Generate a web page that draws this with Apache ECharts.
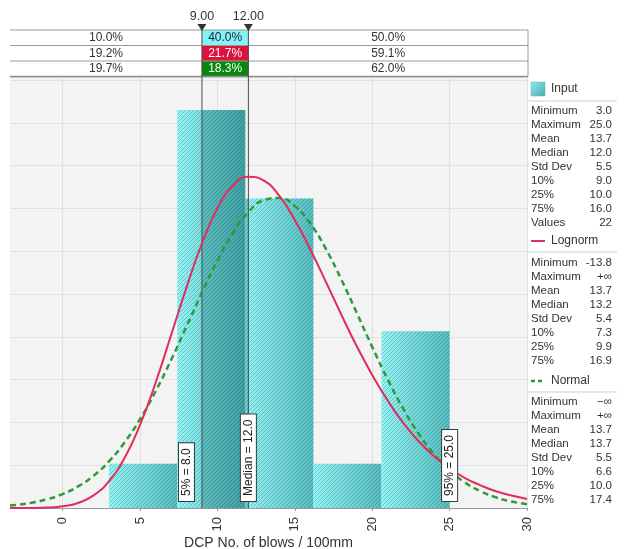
<!DOCTYPE html>
<html>
<head>
<meta charset="utf-8">
<script src="https://cdn.jsdelivr.net/npm/echarts@6/dist/echarts.min.js"></script>
<style>
  html, body { margin: 0; padding: 0; background: #ffffff; }
  #chart { width: 627px; height: 549px; }
</style>
</head>
<body>
<div id="chart"></div>
<script>
// Histogram of the input sample (22 values, 5 equal bins)
const binEdges = [3.0, 7.4, 11.8, 16.2, 20.6, 25.0];
const binCounts = [1, 9, 7, 1, 4];
const totalValues = 22;

// Fitted probability densities sampled along the x axis
const curveX = [-3.4, -3, -2, -1, 0, 1, 2, 3, 4, 5, 6, 7, 8, 9, 10, 11, 12, 13, 14, 15,
  16, 17, 18, 19, 20, 21, 22, 23, 24, 25, 26, 27, 28, 29, 30];
const lognormPdf = [0.000001, 0.000003, 0.00002, 0.0001, 0.00039, 0.00118, 0.00294, 0.00628,
  0.0117, 0.0194, 0.0292, 0.0403, 0.0515, 0.0618, 0.0700, 0.0753, 0.0774, 0.0765, 0.0729,
  0.0673, 0.0604, 0.0529, 0.0452, 0.0378, 0.0311, 0.0251, 0.0199, 0.0156, 0.0121, 0.0093,
  0.0070, 0.0053, 0.0039, 0.0029, 0.0021];
const normalPdf = [0.00058, 0.00072, 0.00123, 0.00204, 0.00326, 0.00504, 0.00755, 0.01093,
  0.01532, 0.02076, 0.02722, 0.03454, 0.04239, 0.05034, 0.05784, 0.0643, 0.06914, 0.07194,
  0.07242, 0.07053, 0.06646, 0.06058, 0.05343, 0.04559, 0.03764, 0.03006, 0.02323, 0.01736,
  0.01256, 0.00879, 0.00595, 0.0039, 0.00247, 0.00151, 0.0009];

// Delimiters and the probability table above the plot
const delimiters = [9.0, 12.0];
const delimiterLabels = ['9.00', '12.00'];
const leftProb = ['10.0%', '19.2%', '19.7%'];
const midProb = ['40.0%', '21.7%', '18.3%'];
const rightProb = ['50.0%', '59.1%', '62.0%'];

// Percentile markers
const markers = [[8.0, '5% = 8.0'], [12.0, 'Median = 12.0'], [25.0, '95% = 25.0']];

const xTicks = [0, 5, 10, 15, 20, 25, 30];

// Statistics panel
const statNames = ['Minimum', 'Maximum', 'Mean', 'Median', 'Std Dev', '10%', '25%', '75%'];
const inputStats = ['3.0', '25.0', '13.7', '12.0', '5.5', '9.0', '10.0', '16.0'];
const inputValuesCount = '22';
const lognormStats = ['-13.8', '+\u221e', '13.7', '13.2', '5.4', '7.3', '9.9', '16.9'];
const normalStats = ['\u2212\u221e', '+\u221e', '13.7', '13.7', '5.5', '6.6', '10.0', '17.4'];

const FONT = 'Liberation Sans, Arial, sans-serif';
const RED = '#e02c5e';
const GREEN = '#2f9a3a';

// diagonal hatch texture laid over the histogram bars
const hatch = document.createElement('canvas');
hatch.width = 4; hatch.height = 4;
(function () {
  const c = hatch.getContext('2d');
  c.strokeStyle = 'rgba(0,70,70,0.26)';
  c.lineWidth = 1;
  c.beginPath();
  c.moveTo(0, 4); c.lineTo(4, 0);
  c.moveTo(-1, 1); c.lineTo(1, -1);
  c.moveTo(3, 5); c.lineTo(5, 3);
  c.stroke();
})();
const hatchFill = { image: hatch, repeat: 'repeat' };

const barData = binCounts.map((c, i) => {
  const w = binEdges[i + 1] - binEdges[i];
  return [binEdges[i], binEdges[i + 1], c / (totalValues * w)];
});

function barGradient() {
  return new echarts.graphic.LinearGradient(0, 0, 1, 0, [
    { offset: 0, color: '#94f4f6' },
    { offset: 1, color: '#58bcbf' }
  ]);
}

const chart = echarts.init(document.getElementById('chart'), null, { renderer: 'canvas' });

const option = {
  animation: false,
  backgroundColor: '#ffffff',
  grid: {
    left: 10, right: 100, top: 77, bottom: 41,
    outerBoundsMode: 'none', containLabel: false,
    show: true, backgroundColor: '#f3f3f3', borderWidth: 0
  },
  xAxis: {
    type: 'value', min: -3.4, max: 30,
    name: 'DCP No. of blows / 100mm',
    nameLocation: 'middle', nameGap: 28, nameMoveOverlap: false,
    nameTextStyle: { fontFamily: FONT, fontSize: 14, color: '#333' },
    axisLine: { show: true, lineStyle: { color: '#9a9a9a' } },
    axisTick: { show: true, length: 3, customValues: xTicks, lineStyle: { color: '#9a9a9a' } },
    axisLabel: { customValues: xTicks, rotate: 90, margin: 9, fontFamily: FONT, fontSize: 13, color: '#333' },
    splitLine: { show: true, lineStyle: { color: '#e0e0e0', width: 1 } }
  },
  yAxis: {
    type: 'value', min: 0, max: 0.1007, interval: 0.01,
    axisLabel: { show: false }, axisLine: { show: false }, axisTick: { show: false },
    splitLine: { show: true, lineStyle: { color: '#e0e0e0', width: 1 } }
  },
  series: [
    {
      name: 'Input', type: 'custom', data: barData,
      encode: { x: [0, 1], y: 2 },
      renderItem: function (params, api) {
        const p0 = api.coord([api.value(0), api.value(2)]);
        const p1 = api.coord([api.value(1), 0]);
        const x = p0[0], y = p0[1], w = p1[0] - p0[0], h = p1[1] - p0[1];
        const d0 = api.coord([delimiters[0], 0])[0];
        const d1 = api.coord([delimiters[1], 0])[0];
        const children = [
          { type: 'rect', shape: { x: x, y: y, width: w, height: h }, style: { fill: barGradient() } },
          { type: 'rect', shape: { x: x, y: y, width: w, height: h }, style: { fill: hatchFill } }
        ];
        const ox0 = Math.max(x, d0), ox1 = Math.min(x + w, d1);
        if (ox1 > ox0) {
          children.push({ type: 'rect', shape: { x: ox0, y: y, width: ox1 - ox0, height: h },
            style: { fill: 'rgba(0,80,85,0.25)' } });
        }
        return { type: 'group', children: children };
      },
      z: 2
    },
    {
      name: 'delimiters', type: 'custom',
      data: delimiters.map(d => [d, 0]),
      encode: { x: 0, y: 1 },
      renderItem: function (params, api) {
        const b = api.coord([api.value(0), 0]);
        const t = api.coord([api.value(0), 0.1007]);
        return { type: 'line', shape: { x1: b[0], y1: b[1], x2: t[0], y2: t[1] },
          style: { stroke: '#4a4a4a', lineWidth: 1 } };
      },
      z: 3
    },
    {
      name: 'Normal', type: 'line', smooth: true, showSymbol: false,
      data: curveX.map((x, i) => [x, normalPdf[i]]),
      lineStyle: { color: GREEN, width: 2.5, type: [6, 4] },
      z: 4
    },
    {
      name: 'Lognorm', type: 'line', smooth: true, showSymbol: false,
      data: curveX.map((x, i) => [x, lognormPdf[i]]),
      lineStyle: { color: RED, width: 2 },
      z: 5
    },
    {
      name: 'markers', type: 'custom',
      data: markers.map(m => [m[0], 0]),
      encode: { x: 0, y: 1 },
      renderItem: function (params, api) {
        const p = api.coord([api.value(0), 0]);
        return {
          type: 'text', x: p[0], y: p[1] - 7, rotation: Math.PI / 2,
          style: {
            text: markers[params.dataIndex][1], align: 'left', verticalAlign: 'middle',
            fill: '#222', font: '12px ' + FONT,
            backgroundColor: '#ffffff', borderColor: '#3a3a3a', borderWidth: 1,
            padding: [2, 5, 1, 5]
          }
        };
      },
      z: 6
    }
  ]
};

chart.setOption(option);

// Probability table, delimiter handles and statistics panel
function buildGraphics() {
  const px = delimiters.map(d => chart.convertToPixel({ xAxisIndex: 0 }, d));
  const tableLeft = 10, tableRight = 528;
  const rowTops = [30, 45.5, 61, 76.5];
  const midFill = ['#84f3f7', '#dc143c', '#08870f'];
  const midText = ['#1e1e3c', '#ffffff', '#ffffff'];
  const g = [];

  for (let r = 0; r < 3; r++) {
    const y0 = rowTops[r], y1 = rowTops[r + 1], cy = (y0 + y1) / 2;
    g.push({ type: 'rect', shape: { x: px[0], y: y0, width: px[1] - px[0], height: y1 - y0 },
      style: { fill: midFill[r] }, z: 10 });
    g.push({ type: 'text', x: (tableLeft + px[0]) / 2, y: cy,
      style: { text: leftProb[r], font: '12px ' + FONT, fill: '#333', align: 'center', verticalAlign: 'middle' }, z: 12 });
    g.push({ type: 'text', x: (px[0] + px[1]) / 2, y: cy,
      style: { text: midProb[r], font: '12px ' + FONT, fill: midText[r], align: 'center', verticalAlign: 'middle' }, z: 12 });
    g.push({ type: 'text', x: (px[1] + tableRight) / 2, y: cy,
      style: { text: rightProb[r], font: '12px ' + FONT, fill: '#333', align: 'center', verticalAlign: 'middle' }, z: 12 });
  }
  rowTops.forEach((y, i) => {
    g.push({ type: 'line', shape: { x1: tableLeft, y1: y, x2: tableRight, y2: y },
      style: { stroke: i === 3 ? '#8c8c8c' : '#9a9a9a', lineWidth: i === 3 ? 1.5 : 1 }, z: 11 });
  });
  g.push({ type: 'line', shape: { x1: tableRight, y1: rowTops[0], x2: tableRight, y2: rowTops[3] },
    style: { stroke: '#9a9a9a', lineWidth: 1 }, z: 11 });

  px.forEach((x, i) => {
    g.push({ type: 'line', shape: { x1: x, y1: 25, x2: x, y2: 77 },
      style: { stroke: '#4a4a4a', lineWidth: 1 }, z: 13 });
    g.push({ type: 'polygon', shape: { points: [[x - 4.5, 24], [x + 4.5, 24], [x, 31]] },
      style: { fill: '#333' }, z: 13 });
    g.push({ type: 'text', x: x, y: 17,
      style: { text: delimiterLabels[i], font: '12.5px ' + FONT, fill: '#333', align: 'center', verticalAlign: 'middle' }, z: 13 });
  });

  // statistics panel
  const labelX = 531, valueX = 612, sepL = 528, sepR = 617, rowH = 14;
  function statBlock(values, top, extra) {
    values.forEach((v, i) => {
      const y = top + i * rowH;
      g.push({ type: 'text', x: labelX, y: y,
        style: { text: statNames[i], font: '11.5px ' + FONT, fill: '#333', align: 'left', verticalAlign: 'middle' } });
      g.push({ type: 'text', x: valueX, y: y,
        style: { text: v, font: '11.5px ' + FONT, fill: '#333', align: 'right', verticalAlign: 'middle' } });
    });
    if (extra) {
      const y = top + values.length * rowH;
      g.push({ type: 'text', x: labelX, y: y,
        style: { text: extra[0], font: '11.5px ' + FONT, fill: '#333', align: 'left', verticalAlign: 'middle' } });
      g.push({ type: 'text', x: valueX, y: y,
        style: { text: extra[1], font: '11.5px ' + FONT, fill: '#333', align: 'right', verticalAlign: 'middle' } });
    }
  }

  // Input
  g.push({ type: 'rect', shape: { x: 531, y: 82, width: 14, height: 14 },
    style: { fill: new echarts.graphic.LinearGradient(0, 0, 1, 1, [
      { offset: 0, color: '#8fe8ea' }, { offset: 1, color: '#4aaeb2' }]), stroke: '#5bb5b8', lineWidth: 0.5 } });
  g.push({ type: 'text', x: 551, y: 89,
    style: { text: 'Input', font: '12px ' + FONT, fill: '#333', align: 'left', verticalAlign: 'middle' } });
  g.push({ type: 'line', shape: { x1: sepL, y1: 101, x2: sepR, y2: 101 }, style: { stroke: '#cfcfcf', lineWidth: 1 } });
  statBlock(inputStats, 111, ['Values', inputValuesCount]);

  // Lognorm
  g.push({ type: 'line', shape: { x1: 531, y1: 241, x2: 545, y2: 241 }, style: { stroke: RED, lineWidth: 2 } });
  g.push({ type: 'text', x: 551, y: 241,
    style: { text: 'Lognorm', font: '12px ' + FONT, fill: '#333', align: 'left', verticalAlign: 'middle' } });
  g.push({ type: 'line', shape: { x1: sepL, y1: 252, x2: sepR, y2: 252 }, style: { stroke: '#cfcfcf', lineWidth: 1 } });
  statBlock(lognormStats, 263);

  // Normal
  g.push({ type: 'line', shape: { x1: 531, y1: 381, x2: 545, y2: 381 },
    style: { stroke: GREEN, lineWidth: 2.5, lineDash: [4, 3] } });
  g.push({ type: 'text', x: 551, y: 381,
    style: { text: 'Normal', font: '12px ' + FONT, fill: '#333', align: 'left', verticalAlign: 'middle' } });
  g.push({ type: 'line', shape: { x1: sepL, y1: 392, x2: sepR, y2: 392 }, style: { stroke: '#cfcfcf', lineWidth: 1 } });
  statBlock(normalStats, 402);

  chart.setOption({ graphic: g });
}
buildGraphics();
</script>
</body>
</html>
